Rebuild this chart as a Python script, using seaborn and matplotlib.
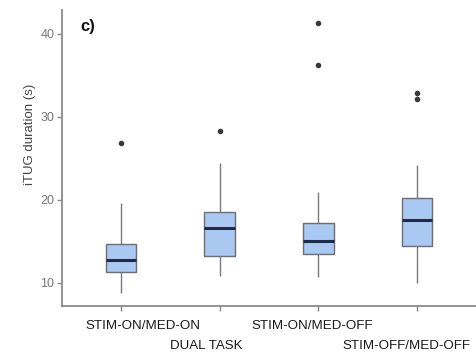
import matplotlib
matplotlib.use("Agg")
import matplotlib.pyplot as plt
import matplotlib.transforms as mtransforms
import pandas as pd
import seaborn as sns

# box summary (seconds)
conditions = ["STIM-ON/MED-ON", "DUAL TASK", "STIM-ON/MED-OFF", "STIM-OFF/MED-OFF"]
whisker_low = [8.8, 10.8, 10.7, 10.0]
q1 = [11.3, 13.25, 13.5, 14.5]
median = [12.8, 16.6, 15.0, 17.6]
q3 = [14.7, 18.6, 17.2, 20.2]
whisker_high = [19.6, 24.4, 21.0, 24.2]
outliers = [[26.9], [28.3], [36.2, 41.3], [32.2, 32.85]]


def build_table():
    """
    Build a long table whose quartiles, whiskers and fliers give the boxes above.
    """
    rows = []
    for i, cond in enumerate(conditions):
        m = len(outliers[i]) + 1
        vals = [whisker_low[i]] + [q1[i]] * m + [median[i]] * m + [q3[i]] * m
        vals += [whisker_high[i]] + list(outliers[i])
        rows += [(cond, v) for v in vals]
    return pd.DataFrame(rows, columns=["condition", "itug"])


data = build_table()

sns.set_theme(style="white")
plt.rcParams["font.family"] = ["Liberation Sans", "DejaVu Sans"]

fig = plt.figure(figsize=(4.77, 3.52), dpi=100)
ax = fig.add_axes([0.130, 0.131, 0.868, 0.841])

sns.boxplot(data=data, x="condition", y="itug", order=conditions, ax=ax,
            width=0.31, color="#a9c8f2", saturation=1, linewidth=1.0,
            boxprops=dict(edgecolor="#6e6e6e"),
            whiskerprops=dict(color="#7a7a7a"),
            capprops=dict(color="#7a7a7a", linewidth=0),
            medianprops=dict(color="#1f2b48", linewidth=2.2),
            flierprops=dict(marker="o", markersize=3.0, markerfacecolor="#3a3a3a",
                            markeredgecolor="#3a3a3a"))

ax.set_ylim(7.23, 42.9)
ax.set_xlim(-0.6, 3.6)
ax.set_yticks([10, 20, 30, 40])
ax.set_xlabel("")
ax.set_ylabel("iTUG duration (s)", fontsize=9.5, color="#444444")
ax.yaxis.set_label_coords(-0.064, 0.58)

for side in ["top", "right"]:
    ax.spines[side].set_visible(False)
for side in ["left", "bottom"]:
    ax.spines[side].set_color("#8a8a8a")
    ax.spines[side].set_linewidth(1.3)

ax.tick_params(axis="y", length=3.5, width=1, color="#8a8a8a", labelsize=9,
               labelcolor="#777777", pad=2, left=True)
ax.tick_params(axis="x", length=3.5, width=1, color="#8a8a8a", labelsize=9.6,
               labelcolor="#1a1a1a", pad=7, bottom=True)

# staggered, slightly shifted category labels
shift_x = [22, -13, -6, -10]
shift_y = [0, -20, 0, -20]
for lab, dx, dy in zip(ax.get_xticklabels(), shift_x, shift_y):
    lab.set_transform(lab.get_transform() +
                      mtransforms.ScaledTranslation(dx / 100, dy / 100, fig.dpi_scale_trans))

ax.text(0.045, 0.943, "c)", transform=ax.transAxes, fontsize=12,
        fontweight="bold", color="#111111", va="center", ha="left")

fig.savefig("out.png", dpi=100)
